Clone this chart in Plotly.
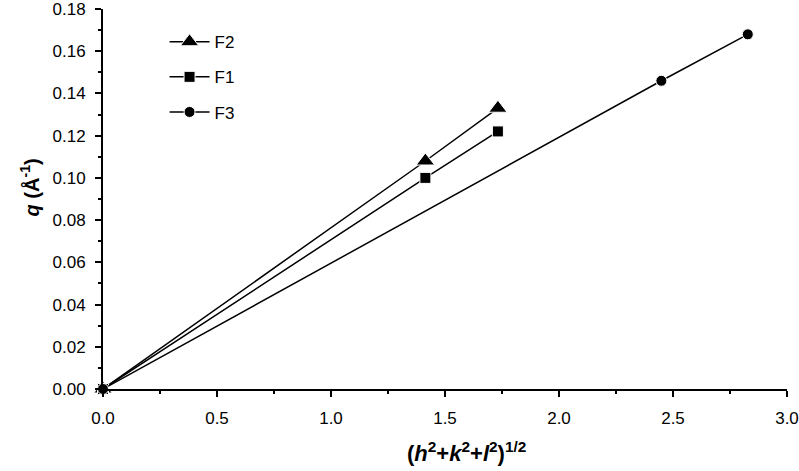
import plotly.graph_objects as go

# values
series_names = ["F2", "F1", "F3"]
hkl_f2 = [0.0, 1.414, 1.732]
q_f2 = [0.0, 0.108, 0.133]
hkl_f1 = [0.0, 1.414, 1.732]
q_f1 = [0.0, 0.100, 0.122]
hkl_f3 = [0.0, 2.449, 2.828]
q_f3 = [0.0, 0.146, 0.168]

x_ticks = [0.0, 0.5, 1.0, 1.5, 2.0, 2.5, 3.0]
y_ticks = [0.00, 0.02, 0.04, 0.06, 0.08, 0.10, 0.12, 0.14, 0.16, 0.18]

FONT = "Liberation Sans, Arial, sans-serif"

series = [
    (series_names[0], hkl_f2, q_f2, "triangle-up", 16),
    (series_names[1], hkl_f1, q_f1, "square", 11),
    (series_names[2], hkl_f3, q_f3, "circle", 11),
]

fig = go.Figure()
for i, (name, xs, ys, sym, size) in enumerate(series):
    fig.add_trace(go.Scatter(
        x=xs, y=ys, name=name, mode="lines+markers",
        line=dict(color="black", width=1.5),
        marker=dict(symbol=sym, size=size, color="black",
                    line=dict(color="white", width=1)),
        legendgroup=f"g{i}",
        cliponaxis=False,
    ))

axis_common = dict(
    showline=True, linecolor="black", linewidth=2,
    ticks="outside", ticklen=6, tickwidth=1.5, tickcolor="black",
    showgrid=False, zeroline=False, automargin=False,
    ticklabeloverflow="allow",
    tickfont=dict(family=FONT, size=17, color="black"),
    mirror=False,
)

fig.update_xaxes(
    range=[0, 3.0], tickvals=x_ticks, tickformat=".1f", ticklabelstandoff=7,
    minor=dict(ticks="outside", ticklen=3, tickwidth=1.5, tickcolor="black", dtick=0.25),
    **axis_common,
)
fig.update_yaxes(
    range=[0, 0.18], tickvals=y_ticks, tickformat=".2f", ticklabelstandoff=6,
    minor=dict(ticks="outside", ticklen=3, tickwidth=1.5, tickcolor="black", dtick=0.01),
    **axis_common,
)

fig.add_annotation(
    text="<b>(<i>h</i><sup>2</sup>+<i>k</i><sup>2</sup>+<i>l</i><sup>2</sup>)<sup>1/2</sup></b>",
    xref="paper", yref="paper", x=0.532, y=-0.165, xanchor="center", yanchor="middle",
    showarrow=False, font=dict(family=FONT, size=22, color="black"),
)
fig.add_annotation(
    text="<b><i>q</i> (Å<sup>-1</sup>)</b>",
    xref="paper", yref="paper", x=-0.107, y=0.53, xanchor="center", yanchor="middle",
    textangle=-90, showarrow=False, font=dict(family=FONT, size=20, color="black"),
)

fig.update_layout(
    width=799, height=471,
    margin=dict(l=103, r=12, t=9, b=82, autoexpand=False),
    paper_bgcolor="white", plot_bgcolor="white",
    showlegend=True,
    legend=dict(
        x=0.09, y=0.96, xanchor="left", yanchor="top",
        font=dict(family=FONT, size=17, color="black"),
        bgcolor="rgba(0,0,0,0)", tracegroupgap=10, itemwidth=40,
    ),
)

# drop the default 8px body margin so the figure sits at the page corner
fig.write_html("out.html", config={"displayModeBar": False},
               post_script="document.body.style.margin='0';")
